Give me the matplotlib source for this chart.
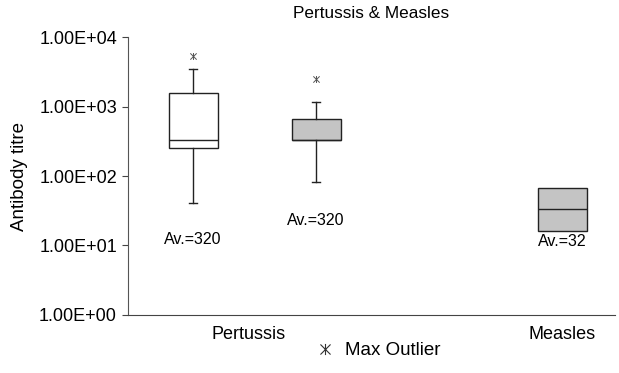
import matplotlib
matplotlib.use("Agg")
import matplotlib.pyplot as plt
from matplotlib.lines import Line2D
from matplotlib.path import Path

plt.rcParams['font.family'] = ['Liberation Sans', 'DejaVu Sans']

# Data
box_names = ["Pertussis A", "Pertussis B", "Measles"]
box_pos = [1, 2, 4]
q1 = [252, 330, 16]
med = [330, 330, 33]
q3 = [1560, 660, 67]
whis_lo = [41, 82, 16]
whis_hi = [3470, 1150, 67]
max_outlier = [5350, 2500, None]
avg_labels = ["Av.=320", "Av.=320", "Av.=32"]
avg_label_y = [12.0, 23.0, 11.5]
box_colors = ["white", "#c4c4c4", "#c4c4c4"]
has_whiskers = [True, True, False]

cat_labels = ["Pertussis", "Measles"]
cat_pos = [1.45, 4]
yticks = [1, 10, 100, 1000, 10000]
ytick_labels = ["1.00E+00", "1.00E+01", "1.00E+02", "1.00E+03", "1.00E+04"]

# x-with-vertical-bar marker
star_marker = Path([(-1, -1), (1, 1), (-1, 1), (1, -1), (0, -1.1), (0, 1.1)],
                   [Path.MOVETO, Path.LINETO, Path.MOVETO, Path.LINETO, Path.MOVETO, Path.LINETO])

fig = plt.figure(figsize=(6.19, 3.73), dpi=100)
ax = fig.add_axes([0.2068, 0.1555, 0.7867, 0.7453])

for i in range(len(box_names)):
    stats = [dict(med=med[i], q1=q1[i], q3=q3[i], whislo=whis_lo[i], whishi=whis_hi[i],
                  fliers=[] if max_outlier[i] is None else [max_outlier[i]])]
    ax.bxp(stats, positions=[box_pos[i]], widths=0.4, patch_artist=True,
           showcaps=has_whiskers[i], showfliers=True, capwidths=0.06,
           boxprops=dict(facecolor=box_colors[i], edgecolor="#222222", linewidth=1.0),
           medianprops=dict(color="#222222", linewidth=1.0),
           whiskerprops=dict(color="#222222", linewidth=1.0),
           capprops=dict(color="#222222", linewidth=1.0),
           flierprops=dict(marker=star_marker, markersize=5, markeredgecolor="#555555",
                           markerfacecolor="none", markeredgewidth=0.7, linestyle="none"))
    ax.text(box_pos[i], avg_label_y[i], avg_labels[i], ha="center", va="center", fontsize=11.5)

ax.set_yscale("log")
ax.set_ylim(1, 10000)
ax.set_xlim(0.47, 4.43)
ax.set_yticks(yticks)
ax.set_yticklabels(ytick_labels, fontsize=13)
ax.yaxis.set_minor_locator(matplotlib.ticker.NullLocator())
ax.set_xticks(cat_pos)
ax.set_xticklabels(cat_labels, fontsize=13)
ax.tick_params(axis="x", length=0, pad=8)
ax.tick_params(axis="y", length=4, direction="out", pad=4, color="#444444")
for s in ["top", "right"]:
    ax.spines[s].set_visible(False)
ax.spines["left"].set_color("#555555")
ax.spines["bottom"].set_color("#444444")
ax.set_ylabel("Antibody titre", fontsize=13.5, labelpad=8)
ax.set_title("Pertussis & Measles", fontsize=12.3, pad=14)

handle = Line2D([], [], marker=star_marker, linestyle="none", markersize=8,
                markeredgecolor="#333333", markerfacecolor="none", markeredgewidth=0.8)
fig.legend([handle], ["Max Outlier"], loc="center", bbox_to_anchor=(0.607, 0.06),
           frameon=False, fontsize=13.5, handletextpad=0.3, handlelength=1.5)

fig.savefig("out.png", dpi=100)
